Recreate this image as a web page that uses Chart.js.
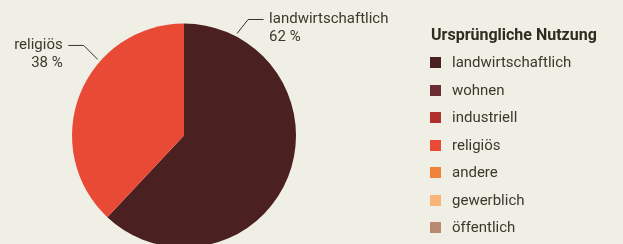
<!DOCTYPE html>
<html>
<head>
<meta charset="utf-8">
<script src="https://cdn.jsdelivr.net/npm/chart.js@4"></script>
<style>
  html, body { margin: 0; padding: 0; background: #f0efe6; overflow: hidden; }
  body { width: 623px; height: 244px; position: relative; font-family: Roboto, sans-serif; }
  #wrap { position: absolute; left: 0; top: 0; width: 623px; height: 262px; }
  #legend { position: absolute; left: 431px; top: 24px; color: #3b382c; }
  #legend h3 { margin: 0 0 3px 0; font-size: 16px; font-weight: 700; line-height: 22px; color: #2e2b1f; }
  #legend ul { list-style: none; margin: 0; padding: 0; }
  #legend li { height: 27.5px; line-height: 27.5px; font-size: 15px; display: flex; align-items: center; }
  #legend li span { display: inline-block; width: 11px; height: 11px; margin-right: 11px; margin-left: -1px; }
</style>
</head>
<body>
<div id="wrap"><canvas id="chart"></canvas></div>
<div id="legend"><h3>Ursprüngliche Nutzung</h3><ul id="legendList"></ul></div>
<script>
// Categories and shares (percent)
const categories = ["landwirtschaftlich", "wohnen", "industriell", "religiös", "andere", "gewerblich", "öffentlich"];
const shares = [62, 0, 0, 38, 0, 0, 0];
const colors = ["#4a2020", "#6b2b33", "#b0302f", "#e84a35", "#f0833a", "#f9b477", "#b88a72"];

// Where the outside labels sit (degrees clockwise from 12 o'clock), side and leader slant
const labelPlacement = {
  "landwirtschaftlich": { angle: 27.5, side: "right", slant: 11 },
  "religiös": { angle: -48.6, side: "left", slant: 14 },
};

// HTML legend
const legendList = document.getElementById("legendList");
categories.forEach((cat, i) => {
  const li = document.createElement("li");
  const box = document.createElement("span");
  box.style.background = colors[i];
  li.appendChild(box);
  li.appendChild(document.createTextNode(cat));
  legendList.appendChild(li);
});

// Outside labels with leader lines
const outsideLabels = {
  id: "outsideLabels",
  afterDatasetsDraw(chart) {
    const ctx = chart.ctx;
    const meta = chart.getDatasetMeta(0);
    ctx.save();
    ctx.font = "15px Roboto, sans-serif";
    ctx.textBaseline = "middle";
    ctx.fillStyle = "#3b382c";
    ctx.strokeStyle = "#333";
    ctx.lineWidth = 1;
    meta.data.forEach((arc, i) => {
      const place = labelPlacement[categories[i]];
      if (!place || !shares[i]) return;
      const a = (place.angle - 90) * Math.PI / 180;
      const r = arc.outerRadius;
      const x0 = arc.x + Math.cos(a) * (r + 3);
      const y0 = arc.y + Math.sin(a) * (r + 3);
      const dir = place.side === "right" ? 1 : -1;
      const x1 = x0 + dir * place.slant;
      const y1 = y0 - 14;
      const x2 = x1 + dir * 15.5;
      ctx.beginPath();
      ctx.moveTo(x0, y0);
      ctx.lineTo(x1, y1);
      ctx.lineTo(x2, y1);
      ctx.stroke();
      const tx = x2 + dir * 5.5;
      ctx.textAlign = dir > 0 ? "left" : "right";
      ctx.fillText(categories[i], tx, y1);
      ctx.fillText(shares[i] + " %", tx, y1 + 18);
    });
    ctx.restore();
  },
};

new Chart(document.getElementById("chart"), {
  type: "pie",
  data: {
    labels: categories,
    datasets: [{
      data: shares,
      backgroundColor: colors,
      borderWidth: 0,
    }],
  },
  options: {
    responsive: true,
    maintainAspectRatio: false,
    animation: false,
    layout: { padding: { left: 72, top: 23, right: 327, bottom: 14 } },
    plugins: {
      legend: { display: false },
      tooltip: { enabled: false },
    },
  },
  plugins: [outsideLabels],
});
</script>
</body>
</html>
